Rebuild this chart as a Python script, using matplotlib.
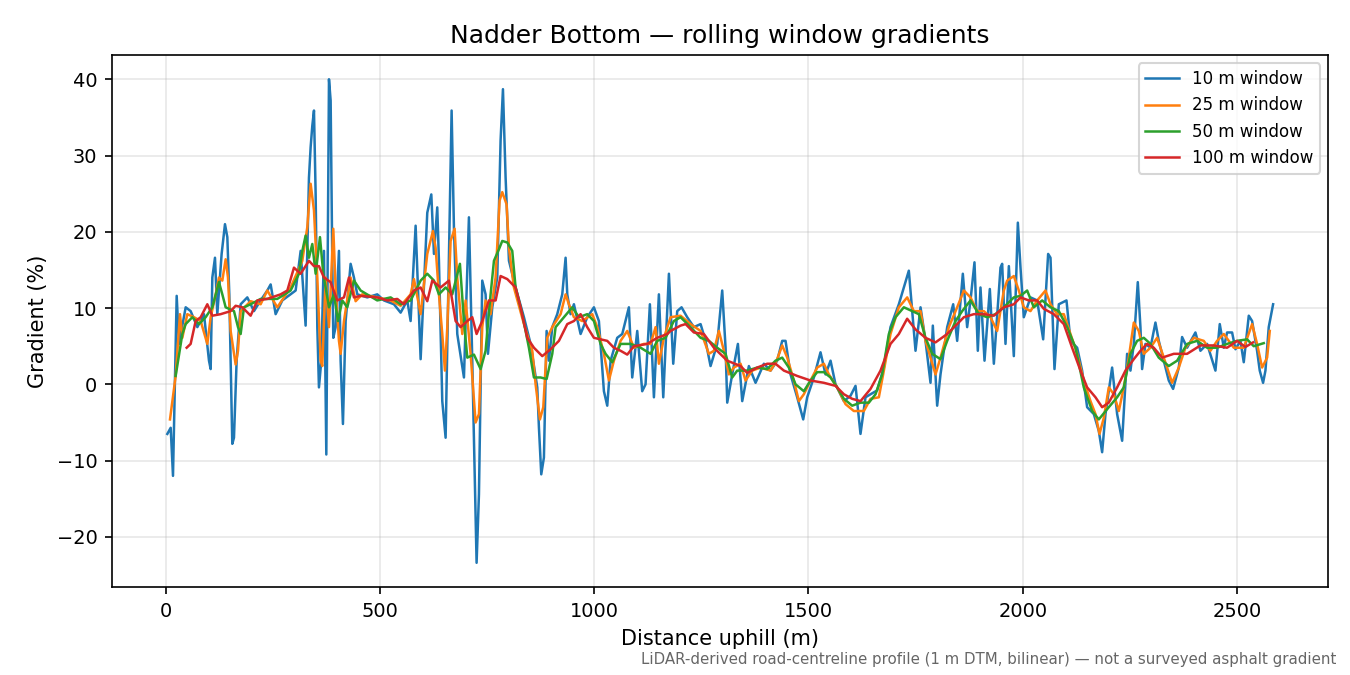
import matplotlib
matplotlib.use("Agg")
import matplotlib.pyplot as plt

# ---- 10 m window ----
x10 = [3.9, 11.7, 17.1, 25.7, 31.1, 46.7, 58.3, 73.9, 89.4, 101.1, 105, 108.9, 115.1, 120.5, 130.6, 138.4,
       143.9, 148.5, 155.5, 159.4, 165.6, 175, 190.5, 206, 221.6, 237.2, 245, 256.6, 272.2, 291.6, 303.3,
       315, 326.6, 334.4, 338.3, 342.2, 346.1, 350, 353.9, 357.7, 363.2, 369.4, 374.9, 381.1, 385, 388.8,
       391.2, 396.6, 404.4, 408.3, 413.7, 420, 431.6, 439.4, 447.2, 470.5, 493.8, 509.4, 532.7, 548.3,
       563.8, 571.6, 583.3, 595, 610.5, 619.9, 626.1, 633.8, 637.7, 645.5, 653.3, 661.1, 667.3, 672.7,
       680.5, 696.1, 707.7, 715.5, 725.6, 731.1, 738.8, 746.6, 752.1, 762.2, 773.8, 781.6, 787.1, 793.3,
       801.1, 816.6, 836.1, 851.6, 867.2, 871.1, 876.5, 882.7, 889, 894.4, 902.2, 913.8, 925.5, 933.3,
       937.2, 944.9, 952.7, 968.3, 983.8, 999.4, 1011, 1022.7, 1030.5, 1038.3, 1053.8, 1065.5, 1081,
       1088.8, 1100.5, 1112.1, 1119.9, 1130, 1139.4, 1151.0, 1161.2, 1174.4, 1184.5, 1193.8, 1203.9,
       1217.1, 1232.7, 1248.3, 1259.9, 1271.6, 1287.1, 1298.8, 1306.6, 1310.5, 1322.1, 1335.4, 1345.5,
       1361, 1376.6, 1396, 1411.6, 1427.1, 1438.8, 1446.6, 1458.2, 1473.8, 1487.8, 1497.1, 1512.7,
       1528.2, 1539.9, 1551.6, 1563.2, 1582.7, 1598.2, 1609.9, 1621.5, 1633.2, 1644.9, 1660.4, 1676,
       1691.5, 1711, 1734.3, 1749.9, 1761.6, 1773.2, 1784.9, 1790.3, 1800.4, 1808.2, 1823.8, 1837.8,
       1847.1, 1860.3, 1870.4, 1878.2, 1887.5, 1895.3, 1901.5, 1910.9, 1923.3, 1932.7, 1948.2, 1952.1,
       1959.9, 1967.7, 1979.3, 1988.7, 1994.9, 2002.6, 2018.2, 2033.8, 2047.8, 2059.4, 2064.9, 2074.2,
       2084.3, 2102.2, 2111.5, 2127.1, 2138.7, 2150.4, 2166, 2177.6, 2185.4, 2193.2, 2208.7, 2220.4,
       2232.1, 2243.7, 2251.5, 2259.3, 2268.6, 2274.8, 2278.7, 2286.5, 2298.2, 2309.8, 2317.6, 2329.3,
       2340.9, 2351, 2364.3, 2372, 2383.7, 2403.1, 2414.8, 2430.4, 2449.8, 2459.9, 2469.3, 2477,
       2488.7, 2496.5, 2508.1, 2515.9, 2527.6, 2535.4, 2547, 2553.2, 2561, 2566.5, 2574.2, 2584.4]
g10 = [-6.5, -5.7, -12.0, 11.6, 5.3, 10.1, 9.6, 7.5, 9.2, 3.1, 2.0, 14.0, 16.6, 9.2, 17.1, 21.0,
       19.3, 11.8, -7.8, -7.0, 3.1, 10.5, 11.4, 9.6, 11.0, 12.3, 13.1, 9.2, 11.0, 11.8, 12.3,
       17.5, 7.7, 27.1, 31.1, 33.9, 35.9, 24.9, 7.5, -0.4, 3.1, 17.5, -9.2, 40.0, 37.2, 16.2,
       6.1, 7.5, 17.5, 3.1, -5.2, 8.3, 15.8, 14.0, 11.8, 11.4, 11.8, 11.0, 10.5, 9.4,
       11.0, 8.3, 20.8, 3.3, 22.5, 24.9, 17.1, 23.2, 16.2, -2.2, -7.0, 16.6, 35.9, 20.6,
       6.6, 0.9, 21.9, 3.1, -23.4, -14.4, 13.6, 11.8, 4.0, 10.1, 14.0, 32.0, 38.7, 27.1,
       16.2, 12.7, 8.8, 5.3, -0.4, -5.7, -11.8, -9.6, 7.0, 3.1, 7.5, 9.2, 11.8, 16.6,
       11.8, 9.2, 10.5, 6.6, 8.8, 10.1, 8.3, -0.9, -2.8, 3.1, 6.1, 6.6, 10.1,
       0.9, 7.0, -0.9, 0.0, 10.5, -1.7, 11.8, -1.7, 14.5, 2.7, 9.6, 10.1,
       8.8, 7.5, 7.9, 5.7, 2.4, 5.3, 12.3, 4.8, -2.4, 1.3, 5.3, -2.2,
       2.4, 0.2, 2.7, 1.8, 3.1, 5.7, 5.7, 1.3, -1.7, -4.6, -1.7, 0.9,
       4.2, 1.3, 3.1, 0.0, -2.2, -1.5, -0.2, -6.5, -1.7, -1.3, -0.8, 2.2,
       7.5, 10.5, 14.9, 4.4, 10.1, 5.7, 0.2, 7.7, -2.8, 1.3, 7.5, 10.5,
       5.7, 14.5, 7.5, 11.0, 16.0, 4.4, 12.7, 3.1, 12.5, 2.7, 15.3, 15.8,
       5.3, 15.5, 3.7, 21.2, 15.3, 8.8, 11.4, 11.0, 5.9, 17.1, 16.6, 2.0,
       10.5, 11.0, 5.7, 4.8, 1.8, -3.0, -3.9, -6.1, -8.9, -3.9, 2.2, -3.9,
       -7.4, 4.0, 1.8, 5.3, 13.4, 7.5, 2.0, 5.3, 4.8, 8.1, 5.7, 3.1,
       0.5, -0.6, 2.2, 6.2, 4.8, 6.8, 4.4, 5.3, 1.8, 7.9, 4.8, 6.8,
       6.8, 4.6, 5.7, 2.9, 9.0, 8.3, 4.4, 1.8, 0.2, 1.8, 7.5, 10.5]

# ---- 25 m window ----
x25 = [10.1, 23.3, 33.4, 38.9, 50.5, 66.1, 81.7, 97.2, 105, 116.7, 124.4, 132.2, 140, 145.4, 151.6,
       163.3, 168.8, 175, 198.3, 221.6, 237.2, 260.5, 291.6, 318.9, 330.5, 338.3, 346.1, 353.9, 361.6,
       365.5, 373.3, 381.1, 391.2, 396.6, 404.4, 408.3, 416.1, 431.6, 443.3, 458.8, 493.8, 525, 548.3,
       571.6, 579.4, 595, 610.5, 623.7, 630, 637.7, 645.5, 651.7, 657.2, 665, 674.3, 680.5, 692.2, 700,
       711.6, 723.3, 731.1, 738.8, 746.6, 758.3, 769.9, 779.3, 785.5, 795.6, 801.1, 812.7, 836.1, 855.5,
       863.3, 873.4, 881.2, 890.5, 902.2, 921.6, 933.3, 941, 952.7, 972.2, 995.5, 1007.2, 1022.7, 1034.4,
       1046, 1061.6, 1077.2, 1092.7, 1116.0, 1131.6, 1143.3, 1151, 1162.7, 1178.3, 1201.6, 1225, 1248.3,
       1267.7, 1279.4, 1291, 1302.7, 1314.4, 1326, 1341.6, 1353.2, 1368.8, 1388.2, 1411.6, 1425.6,
       1438.8, 1450.5, 1466, 1477.7, 1489.3, 1504.9, 1520.5, 1536, 1547.7, 1567.1, 1586.6, 1606, 1629.3,
       1644.9, 1664.3, 1676, 1691.5, 1711, 1730.5, 1746, 1761.6, 1773.2, 1784.9, 1796.6, 1808.2, 1827.7,
       1847.1, 1862.7, 1878.2, 1893.8, 1909.3, 1924.9, 1940.4, 1956, 1963.8, 1979.3, 1991, 2002.6,
       2018.2, 2033.8, 2053.2, 2064.9, 2080.4, 2096, 2111.5, 2127.1, 2142.6, 2158.2, 2169.9, 2179.2,
       2189.3, 2201, 2212.6, 2224.3, 2235.9, 2247.6, 2259.3, 2270.9, 2282.6, 2298.2, 2313.7, 2329.3,
       2348.7, 2364.3, 2379.8, 2399.3, 2422.6, 2438.1, 2453.7, 2469.3, 2492.6, 2515.9, 2535.4, 2547,
       2558.7, 2570.4, 2576.6]
g25 = [-4.6, 1.1, 9.2, 6.1, 9.2, 8.8, 8.3, 5.3, 8.8, 11.8, 14.0, 13.6, 16.4, 14.0, 7.0,
       2.6, 4.4, 9.6, 10.9, 10.5, 12.3, 10.1, 12.7, 16.2, 20.6, 26.3, 22.8, 14.0, 3.1,
       2.4, 14.0, 7.5, 20.4, 12.7, 5.7, 4.0, 8.3, 14.0, 10.9, 11.8, 11.4, 11.0, 10.3,
       11.8, 13.8, 9.2, 17.1, 20.1, 17.9, 11.8, 6.6, 1.8, 7.5, 18.8, 20.4, 14.0, 6.6, 11.0,
       4.0, -5.0, -3.9, 7.5, 11.0, 9.2, 14.0, 24.1, 25.2, 23.6, 17.9, 12.7, 7.9, 4.4,
       0.0, -4.6, -3.0, 6.1, 7.5, 9.2, 11.8, 10.5, 8.8, 8.3, 9.2, 7.5, 4.0, 0.5,
       3.1, 5.7, 7.0, 4.8, 5.3, 5.3, 7.5, 2.7, 6.1, 8.8, 9.0, 7.9, 7.0,
       4.0, 4.4, 7.0, 4.4, 1.3, 2.2, 2.7, 0.5, 1.8, 2.2, 1.8, 3.1,
       5.1, 3.5, 0.5, -2.2, -1.3, 0.5, 2.2, 2.7, 1.3, -0.4, -2.6, -3.5, -3.5,
       -1.9, -1.7, 1.8, 6.6, 10.1, 11.4, 9.6, 9.6, 5.7, 3.5, 1.3, 3.5, 7.5,
       10.1, 12.3, 11.4, 9.6, 9.6, 8.8, 7.0, 12.3, 13.6, 14.2, 12.3, 10.1,
       9.6, 11.0, 12.3, 10.5, 9.2, 9.2, 6.6, 4.0, 0.5, -2.2, -3.9, -6.5,
       -4.4, -0.4, -1.3, -3.5, -0.4, 3.5, 8.1, 7.0, 4.0, 4.8, 6.1, 3.5,
       0.2, 2.2, 4.8, 6.1, 5.7, 4.4, 5.7, 6.6, 4.8, 4.8, 7.9, 5.3,
       2.2, 3.5, 7.0]

# ---- 50 m window ----
x50 = [23.3, 38.9, 46.7, 62.2, 77.8, 93.3, 108.9, 124.4, 132.2, 140, 159.4, 168.8, 175, 182.8, 198.3,
       221.6, 260.5, 291.6, 311.1, 318.9, 326.6, 334.4, 342.2, 350, 360.1, 367.8, 381.1, 392.7, 402.1,
       412.2, 423.8, 439.4, 455, 493.8, 525, 548.3, 571.6, 595, 610.5, 626.1, 637.7, 653.3, 668.8,
       686.7, 696.1, 703.9, 719.4, 735, 746.6, 758.3, 766.1, 777.7, 785.5, 797.2, 808.8, 816.6, 832.2,
       847.7, 859.4, 874.9, 889, 902.2, 910, 929.4, 948.8, 964.4, 983.8, 999.4, 1014.9, 1026.6, 1042.2,
       1061.6, 1084.9, 1108.3, 1131.6, 1147.2, 1166.6, 1186.0, 1201.6, 1225, 1248.3, 1267.7, 1287.1,
       1306.6, 1322.1, 1333.8, 1357.1, 1380.5, 1403.8, 1423.2, 1438.8, 1454.3, 1469.9, 1489.3, 1504.9,
       1520.5, 1536, 1551.6, 1567.1, 1582.7, 1602.1, 1621.6, 1641, 1656.6, 1672.1, 1687.7, 1703.2,
       1722.7, 1742.1, 1757.7, 1773.2, 1788.8, 1808.2, 1823.8, 1843.2, 1858.8, 1878.2, 1897.7, 1917.1,
       1936.5, 1956, 1979.3, 1994.9, 2010.4, 2026, 2045.4, 2064.9, 2084.3, 2103.8, 2123.2, 2142.6,
       2162.1, 2177.6, 2200.9, 2220.4, 2235.9, 2251.5, 2267.0, 2282.6, 2298.2, 2317.6, 2340.9, 2360.4,
       2383.7, 2407.0, 2430.4, 2453.7, 2477.0, 2500.4, 2523.7, 2539.2, 2562.6]
g50 = [1.1, 6.6, 7.9, 8.8, 7.9, 8.8, 10.1, 13.4, 11.8, 10.1, 9.6, 7.5, 6.6, 10.1, 10.5,
       11.2, 11.2, 12.3, 14.5, 17.5, 19.5, 16.6, 18.4, 14.5, 19.3, 14.5, 10.1, 11.8, 8.3,
       11.0, 10.1, 13.6, 12.3, 11.0, 11.4, 10.5, 11.0, 13.6, 14.5, 13.6, 11.8, 12.7, 11.8,
       15.8, 8.3, 3.5, 3.9, 2.0, 4.4, 11.8, 16.2, 17.7, 18.8, 18.6, 17.5, 12.7, 9.2,
       4.8, 0.9, 0.9, 0.7, 4.0, 7.5, 8.8, 10.1, 8.8, 9.2, 8.3, 5.3, 4.0, 2.9,
       5.3, 5.3, 4.8, 4.0, 5.7, 6.1, 8.3, 8.8, 7.5, 6.1, 5.7, 4.8,
       4.0, 0.9, 1.8, 1.8, 2.2, 2.0, 3.1, 3.5, 2.2, 0.0, -0.9, 0.5,
       1.6, 1.6, 0.9, -0.4, -1.9, -2.8, -2.4, -2.4, -1.3, 1.3, 6.6, 8.8,
       10.1, 9.6, 9.2, 6.1, 4.0, 3.3, 5.7, 8.3, 9.6, 11.0, 9.2, 8.8,
       9.2, 10.1, 11.4, 11.6, 12.3, 10.1, 11.0, 10.1, 9.6, 7.5, 4.8, -0.4,
       -3.5, -4.6, -3.0, -1.7, -0.4, 4.0, 5.7, 6.1, 5.3, 3.5, 2.4, 3.1,
       5.3, 5.7, 4.8, 4.8, 5.3, 5.7, 5.9, 5.0, 5.4]

# ---- 100 m window ----
x100 = [49, 58.3, 70, 81.7, 97.2, 108.9, 128.3, 151.6, 163.3, 178.9, 198.3, 213.9, 237.2, 268.3, 283.9,
        299.4, 315, 334.4, 346.1, 357.7, 369.4, 385, 400.5, 416.1, 427.7, 439.4, 455, 493.8, 517.2,
        540.5, 556.1, 579.4, 595, 610.5, 622.2, 641.6, 661.1, 676.6, 688.3, 703.9, 715.5, 725.6, 738.8,
        754.4, 770, 781.6, 797.2, 816.6, 828.3, 843.8, 859.4, 878.8, 898.3, 917.7, 937.2, 952.7, 968.3,
        983.8, 999.4, 1030.5, 1046, 1061.6, 1077.2, 1092.7, 1123.8, 1147.1, 1170.5, 1178.3, 1201.6,
        1213.3, 1232.7, 1256, 1279.4, 1310.5, 1341.6, 1357.1, 1380.5, 1403.8, 1423.2, 1442.7, 1473.8,
        1504.9, 1536, 1563.2, 1582.7, 1602.1, 1621.6, 1644.9, 1668.2, 1691.5, 1711, 1730.4, 1749.9,
        1773.2, 1796.6, 1823.8, 1847.1, 1862.7, 1886, 1909.3, 1932.7, 1956, 1979.3, 1994.9, 2014.3,
        2033.8, 2049.3, 2072.6, 2096, 2115.4, 2134.9, 2150.4, 2169.9, 2185.4, 2200.9, 2220.4, 2239.8,
        2259.3, 2274.8, 2290.4, 2305.9, 2325.4, 2352.6, 2383.7, 2414.8, 2445.9, 2477, 2500.4, 2519.8,
        2537.7]
g100 = [4.8, 5.3, 8.3, 8.8, 10.5, 9.0, 9.2, 9.6, 10.3, 10.1, 9.0, 11.0, 11.2, 11.8, 12.3,
        15.3, 14.5, 16.2, 15.5, 15.5, 14.0, 13.4, 11.0, 11.4, 14.0, 11.4, 11.6, 11.4, 11.0,
        11.2, 10.5, 12.3, 12.7, 10.9, 13.6, 12.7, 13.6, 8.3, 7.5, 8.3, 8.8, 6.6, 8.3,
        11.0, 11.0, 14.2, 13.8, 12.7, 10.1, 6.1, 4.8, 3.7, 4.6, 5.7, 7.9, 8.3, 9.2,
        7.5, 6.1, 5.7, 4.8, 4.4, 3.9, 5.0, 5.3, 6.1, 6.6, 7.0, 7.7,
        7.9, 6.8, 6.6, 4.8, 3.1, 2.4, 1.5, 2.2, 2.7, 2.7, 1.8, 1.1,
        0.5, 0.2, -0.2, -1.3, -1.9, -2.2, -0.6, 1.8, 5.3, 6.6, 8.6, 7.2,
        6.1, 5.5, 6.6, 7.9, 8.8, 9.2, 9.2, 9.0, 10.1, 10.5, 11.4, 11.0,
        11.0, 9.9, 9.2, 7.9, 4.8, 1.8, -0.4, -1.7, -3.0, -2.4, -0.4, 1.8,
        3.3, 4.4, 5.3, 4.8, 3.5, 4.0, 4.0, 5.1, 5.1, 4.8, 5.7, 4.9,
        5.5]

series = [
    (x10, g10, "10 m window", "#1f77b4"),
    (x25, g25, "25 m window", "#ff7f0e"),
    (x50, g50, "50 m window", "#2ca02c"),
    (x100, g100, "100 m window", "#d62728"),
]

fig = plt.figure(figsize=(9, 4.5), dpi=150)
ax = fig.add_axes([0.083, 0.1304, 0.901, 0.788])
for xs, ys, lab, col in series:
    ax.plot(xs, ys, color=col, lw=1.2, label=lab)

ax.grid(True, alpha=0.3)
ax.set_title("Nadder Bottom — rolling window gradients", fontsize=12)
ax.set_xlabel("Distance uphill (m)", fontsize=10)
ax.set_ylabel("Gradient (%)", fontsize=10)
ax.tick_params(labelsize=9.3)
ax.legend(loc="upper right", fontsize=8)
fig.text(0.99, 0.012, "LiDAR-derived road-centreline profile (1 m DTM, bilinear) — not a surveyed asphalt gradient",
         ha="right", va="bottom", fontsize=7.2, color="0.4")
fig.savefig("out.png", dpi=150)
